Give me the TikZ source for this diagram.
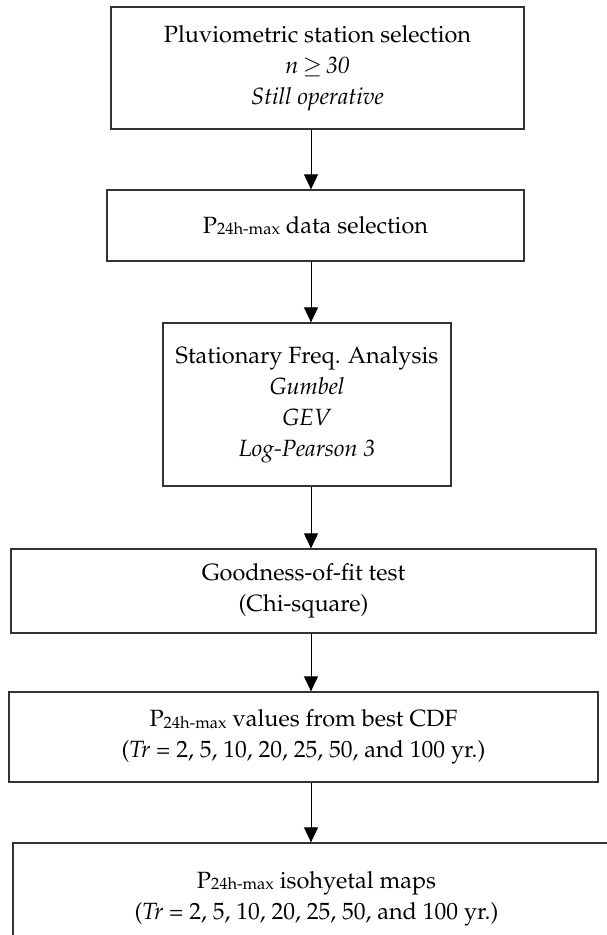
\documentclass[tikz,border=0pt]{standalone}
\usepackage[T1]{fontenc}
\usepackage{mathpazo}
\usetikzlibrary{arrows.meta}

% P with the 24h-max index set small on the line
\newcommand{\pday}{P\raisebox{-1.5pt}{\fontsize{16.5}{18}\selectfont 24h-max}}

\begin{document}
\begin{tikzpicture}[x=1pt,y=-1pt,
    stagebox/.style={draw=black!80, line width=1.3pt, inner sep=0pt,
        align=center, font=\fontsize{23.5}{31}\selectfont},
    flowarrow/.style={draw=black, line width=1pt,
        -{Triangle[length=15pt,width=14pt]}}]

    \useasboundingbox (0,0) rectangle (607,935);

    % Column of the arrows
    \coordinate (ax) at (311,0);

    % The six stages, top to bottom
    \node[stagebox, minimum width=413pt, minimum height=122pt] (st) at (317.5,68)
        {Pluviometric station selection\\ \textit{n}\,$\geq$\,\textit{30}\\ \textit{Still operative}};
    \node[stagebox, minimum width=417pt, minimum height=71pt] (sel) at (315.5,225.5)
        {\pday{} data selection};
    \node[stagebox, minimum width=288pt, minimum height=163pt] (sfa) at (307,404.5)
        {Stationary Freq. Analysis\\ \textit{Gumbel}\\ \textit{GEV}\\ \textit{Log-Pearson 3}};
    \node[stagebox, minimum width=585pt, minimum height=84pt] (gof) at (303.5,591)
        {Goodness-of-fit test\\ (Chi-square)};
    \node[stagebox, minimum width=589pt, minimum height=90pt] (cdf) at (303.5,737)
        {\pday{} values from best CDF\\ (\textit{Tr} = 2, 5, 10, 20, 25, 50, and 100 yr.)};
    \node[stagebox, minimum width=607pt, minimum height=111pt] (iso) at (316.5,898.5)
        {\pday{} isohyetal maps\\ (\textit{Tr} = 2, 5, 10, 20, 25, 50, and 100 yr.)};

    % Arrows between the stages
    \draw[flowarrow] (st.south -| ax) -- (sel.north -| ax);
    \draw[flowarrow] (sel.south -| ax) -- (sfa.north -| ax);
    \draw[flowarrow] (sfa.south -| ax) -- (gof.north -| ax);
    \draw[flowarrow] (gof.south -| ax) -- (cdf.north -| ax);
    \draw[flowarrow] (cdf.south -| ax) -- (iso.north -| ax);

\end{tikzpicture}
\end{document}
